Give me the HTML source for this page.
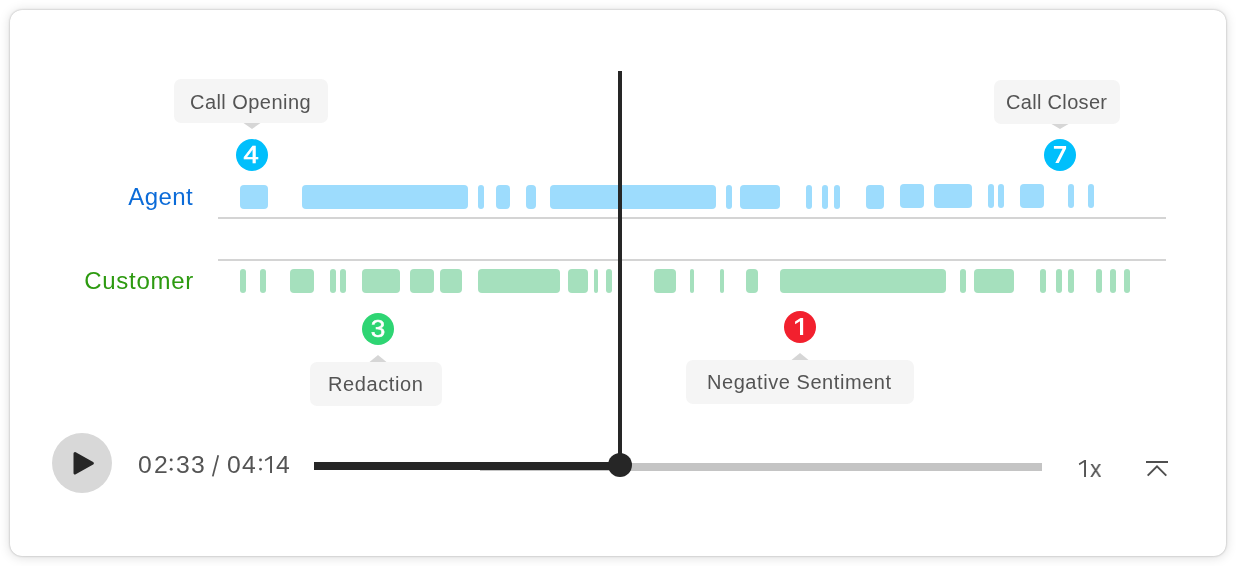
<!DOCTYPE html>
<html>
<head>
<meta charset="utf-8">
<style>
  html, body { margin: 0; padding: 0; background: #ffffff; }
  body { width: 1236px; height: 566px; position: relative; overflow: hidden;
         font-family: "Liberation Sans", sans-serif; }
  .card { position: absolute; left: 10px; top: 10px; width: 1216px; height: 546px;
          background: #fff; border-radius: 12px;
          box-shadow: 0 0 2px rgba(0,0,0,0.22), 0 0 3px rgba(0,0,0,0.08), 0 1px 12px rgba(0,0,0,0.15); }
  .abs { position: absolute; }
  .seg { position: absolute; height: 24px; border-radius: 4px; }
  .a { background: #9ddcfd; top: 185px; }
  .a.u { top: 184px; }
  .c { background: #a5e0bd; top: 269px; }
  .hline { position: absolute; left: 218px; width: 948px; height: 2px; background: #d4d4d4; }
  .label { will-change: transform; position: absolute; font-size: 24px; line-height: 28px; white-space: nowrap; text-align: right; }
  .tip { position: absolute; height: 44px; background: #f5f5f5; border-radius: 7px; }
  .tip span { will-change: transform; position: absolute; top: 0; left: 0; white-space: nowrap; font-size: 20px; line-height: 24px; color: #545454; }
  .badge { position: absolute; width: 32px; height: 32px; border-radius: 50%; }
  .badge i { position: absolute; left: 0; top: 0; width: 32px; height: 32px; display: block; font-style: normal; color: #fff;
           font-size: 24px; line-height: 32px; text-align: center; -webkit-text-stroke: 0.7px #fff;
           transform: scaleX(1.14); transform-origin: 16px 16px; will-change: transform; }
  .g { transform-origin: 0 0; }
  .txt { will-change: transform; position: absolute; white-space: nowrap; font-size: 24px; line-height: 28px; color: #545454; }
</style>
</head>
<body>
<div class="card"></div>

<!-- tooltips -->
<div class="tip" style="left:174px;top:79px;width:154px;"><span id="t1" style="left:16px;top:11px;letter-spacing:0.45px;">Call Opening</span></div>
<div class="tip" style="left:994px;top:80px;width:126px;"><span id="t2" style="left:12px;top:10px;letter-spacing:0.32px;">Call Closer</span></div>
<div class="tip" style="left:310px;top:362px;width:132px;"><span id="t3" style="left:18.4px;top:10px;letter-spacing:0.6px;">Redaction</span></div>
<div class="tip" style="left:686px;top:360px;width:228px;"><span id="t4" style="left:20.6px;top:10px;letter-spacing:0.56px;">Negative Sentiment</span></div>

<!-- arrows + icons -->
<svg class="abs" style="left:0;top:0;" width="1236" height="566" viewBox="0 0 1236 566">
  <polygon points="243.5,123 260.5,123 252,129" fill="#d6d6d6"/>
  <polygon points="1051.5,124 1068.5,124 1060,129" fill="#d6d6d6"/>
  <polygon points="369.5,362 386.5,362 378,355" fill="#d6d6d6"/>
  <polygon points="791.5,360 808.5,360 800,353" fill="#d6d6d6"/>
</svg>

<!-- badges -->
<div class="badge" id="b4" style="left:236px;top:139px;background:#00bffc;"><i style="left:-1.2px;-webkit-text-stroke-width:0.6px;">4</i></div>
<div class="badge" id="b7" style="left:1044px;top:139px;background:#00bffc;"></div>
<div class="badge" id="b3" style="left:362px;top:313px;background:#2ed573;"><i style="transform:scaleX(1.09);-webkit-text-stroke-width:0.5px;">3</i></div>
<div class="badge" id="b1" style="left:784px;top:311px;background:#f2202e;"></div>

<!-- labels -->
<div class="label" id="lagent" style="left:60px;width:133px;top:183px;color:#0b6bd8;letter-spacing:0.4px;">Agent</div>
<div class="label" id="lcust" style="left:60px;width:134px;top:267px;color:#2d9a10;letter-spacing:0.72px;">Customer</div>

<!-- separator lines -->
<div class="hline" style="top:217px;"></div>
<div class="hline" style="top:259px;"></div>

<!-- agent segments -->
<div class="seg a" style="left:240px;width:28px;"></div>
<div class="seg a" style="left:302px;width:166px;"></div>
<div class="seg a" style="left:478px;width:6px;border-radius:3px;"></div>
<div class="seg a" style="left:496px;width:14px;"></div>
<div class="seg a" style="left:526px;width:10px;"></div>
<div class="seg a" style="left:550px;width:166px;"></div>
<div class="seg a" style="left:726px;width:6px;border-radius:3px;"></div>
<div class="seg a" style="left:740px;width:40px;"></div>
<div class="seg a" style="left:806px;width:6px;border-radius:3px;"></div>
<div class="seg a" style="left:822px;width:6px;border-radius:3px;"></div>
<div class="seg a" style="left:834px;width:6px;border-radius:3px;"></div>
<div class="seg a" style="left:866px;width:18px;"></div>
<div class="seg a u" style="left:900px;width:24px;"></div>
<div class="seg a u" style="left:934px;width:38px;"></div>
<div class="seg a u" style="left:988px;width:6px;border-radius:3px;"></div>
<div class="seg a u" style="left:998px;width:6px;border-radius:3px;"></div>
<div class="seg a u" style="left:1020px;width:24px;"></div>
<div class="seg a u" style="left:1068px;width:6px;border-radius:3px;"></div>
<div class="seg a u" style="left:1088px;width:6px;border-radius:3px;"></div>

<!-- customer segments -->
<div class="seg c" style="left:240px;width:6px;border-radius:3px;"></div>
<div class="seg c" style="left:260px;width:6px;border-radius:3px;"></div>
<div class="seg c" style="left:290px;width:24px;"></div>
<div class="seg c" style="left:330px;width:6px;border-radius:3px;"></div>
<div class="seg c" style="left:340px;width:6px;border-radius:3px;"></div>
<div class="seg c" style="left:362px;width:38px;"></div>
<div class="seg c" style="left:410px;width:24px;"></div>
<div class="seg c" style="left:440px;width:22px;"></div>
<div class="seg c" style="left:478px;width:82px;"></div>
<div class="seg c" style="left:568px;width:20px;"></div>
<div class="seg c" style="left:594px;width:4px;border-radius:2px;"></div>
<div class="seg c" style="left:606px;width:6px;border-radius:3px;"></div>
<div class="seg c" style="left:654px;width:22px;"></div>
<div class="seg c" style="left:690px;width:4px;border-radius:2px;"></div>
<div class="seg c" style="left:720px;width:4px;border-radius:2px;"></div>
<div class="seg c" style="left:746px;width:12px;"></div>
<div class="seg c" style="left:780px;width:166px;"></div>
<div class="seg c" style="left:960px;width:6px;border-radius:3px;"></div>
<div class="seg c" style="left:974px;width:40px;"></div>
<div class="seg c" style="left:1040px;width:6px;border-radius:3px;"></div>
<div class="seg c" style="left:1056px;width:6px;border-radius:3px;"></div>
<div class="seg c" style="left:1068px;width:6px;border-radius:3px;"></div>
<div class="seg c" style="left:1096px;width:6px;border-radius:3px;"></div>
<div class="seg c" style="left:1110px;width:6px;border-radius:3px;"></div>
<div class="seg c" style="left:1124px;width:6px;border-radius:3px;"></div>

<!-- progress track -->
<div class="abs" style="left:480px;top:463px;width:562px;height:8px;background:#c4c4c4;"></div>
<div class="abs" style="left:314px;top:462px;width:306px;height:8px;background:#262626;"></div>
<!-- playhead -->
<div class="abs" style="left:618px;top:71px;width:4px;height:394px;background:#262626;"></div>
<div class="abs" style="left:608px;top:453px;width:24px;height:24px;border-radius:50%;background:#262626;"></div>

<!-- play button -->
<div class="abs" style="left:52px;top:433px;width:60px;height:60px;border-radius:50%;background:#d8d8d8;"></div>
<svg class="abs" style="left:0;top:0;" width="1236" height="566" viewBox="0 0 1236 566">
  <polygon points="75.0,453.5 92.4,463.25 75.0,473.0" fill="#262626" stroke="#262626" stroke-width="3" stroke-linejoin="round"/>
  <path d="M803.15 318 L803.15 335.1 L800 335.1 L800 321.3 L795.1 324.3 L795.1 321.4 L800.5 318 Z" fill="#fff"/>
  <line x1="212.75" y1="476.4" x2="218.25" y2="455.3" stroke="#555555" stroke-width="1.75"/>
  <path d="M1053.9 146 H1066.1 V148.5 L1058.7 163.1 H1055.3 L1062.6 148.8 H1053.9 Z" fill="#fff"/>
  <g fill="#555555">
    <circle cx="171.2" cy="460" r="1.45"/><circle cx="171.2" cy="469.2" r="1.45"/>
    <circle cx="260.5" cy="460" r="1.45"/><circle cx="260.5" cy="469.1" r="1.45"/>
    <path d="M272 456.1 L272 473 L270.05 473 L270.05 458.4 L265.4 461.3 L264.8 459.7 L270.4 456.1 Z"/>
    <path d="M1086 460 L1086 476.9 L1084.05 476.9 L1084.05 462.3 L1079.4 465.2 L1078.8 463.6 L1084.4 460 Z"/>
  </g>
  <!-- collapse icon -->
  <rect x="1146" y="461" width="22" height="2" fill="#4f4f4f"/>
  <path d="M1147.7 475.6 L1157 466.3 L1166.3 475.6" fill="none" stroke="#4f4f4f" stroke-width="2" stroke-linejoin="miter"/>
</svg>

<!-- time + speed -->
<div class="txt g" style="left:138.33px;top:451px;transform:scaleX(1.03);">0</div>
<div class="txt g" style="left:153.85px;top:451px;transform:scaleX(1.03);">2</div>
<div class="txt g" style="left:175.56px;top:451px;transform:scaleX(1.03);">3</div>
<div class="txt g" style="left:190.56px;top:451px;transform:scaleX(1.03);">3</div>
<div class="txt g" style="left:226.93px;top:451px;transform:scaleX(1.03);">0</div>
<div class="txt g" style="left:242.33px;top:451px;transform:scaleX(1.03);">4</div>
<div class="txt g" style="left:275.73px;top:451px;transform:scaleX(1.03);">4</div>
<div class="txt g" style="left:1089.94px;top:455px;transform:scaleX(0.95);">x</div>
</body>
</html>
